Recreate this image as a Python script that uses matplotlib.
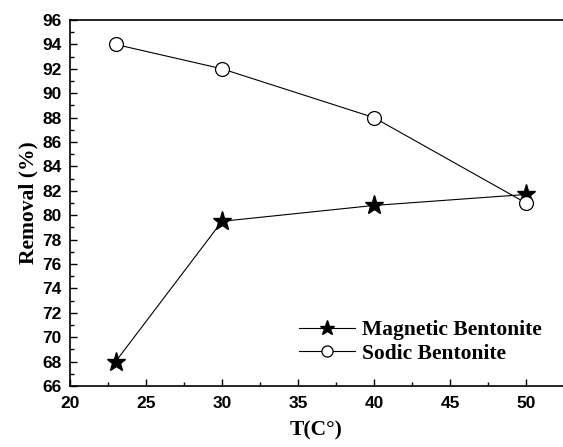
import matplotlib
matplotlib.use('Agg')
import matplotlib.pyplot as plt
from matplotlib.ticker import MultipleLocator

temps = [23, 30, 40, 50]
magnetic = [68.0, 79.5, 80.8, 81.7]
sodic = [94.0, 92.0, 88.0, 81.0]

W, H = 563, 447
fig = plt.figure(figsize=(W / 100, H / 100), dpi=100)
# axes box in pixels: left 70, top 20, bottom 386, runs off the right edge
ax = fig.add_axes([70 / W, (H - 386) / H, 1 - 70 / W, (386 - 20) / H])

ax.plot(temps, magnetic, color='black', linewidth=0.8, marker='*',
        markersize=14, markerfacecolor='black', label='Magnetic Bentonite')
ax.plot(temps, sodic, color='black', linewidth=0.8, marker='o',
        markersize=10, markerfacecolor='white', markeredgewidth=0.9,
        label='Sodic Bentonite')

ax.set_xlim(20, 20 + (W - 70) / 15.2)
ax.set_ylim(66, 96)
ax.xaxis.set_major_locator(MultipleLocator(5))
ax.xaxis.set_minor_locator(MultipleLocator(2.5))
ax.yaxis.set_major_locator(MultipleLocator(2))
ax.yaxis.set_minor_locator(MultipleLocator(1))
ax.tick_params(which='both', direction='in', top=False, right=False)
ax.tick_params(which='major', length=5, width=1)
ax.tick_params(which='minor', length=3, width=1)
ax.tick_params(axis='x', which='major', pad=7)
ax.tick_params(axis='y', which='major', pad=6)
ax.spines['right'].set_visible(False)
for s in ['left', 'bottom', 'top']:
    ax.spines[s].set_linewidth(1.2)

for lab in ax.get_xticklabels() + ax.get_yticklabels():
    lab.set_family('Liberation Sans')
    lab.set_fontweight('bold')
    lab.set_fontsize(12.5)

ax.set_xlabel('T(C°)', family='Liberation Serif', fontweight='bold',
              fontsize=15.5, labelpad=7)
ax.set_ylabel('Removal (%)', family='Liberation Serif', fontweight='bold',
              fontsize=15.5, labelpad=3)

ax.legend(loc='upper left', bbox_to_anchor=((280 - 70) / (W - 70), (386 - 301) / 366),
          frameon=False, handlelength=2.6, handletextpad=0.3, labelspacing=0.15,
          markerscale=0.8,
          prop={'family': 'Liberation Serif', 'weight': 'bold', 'size': 15.5})

fig.savefig('out.png', dpi=100)
